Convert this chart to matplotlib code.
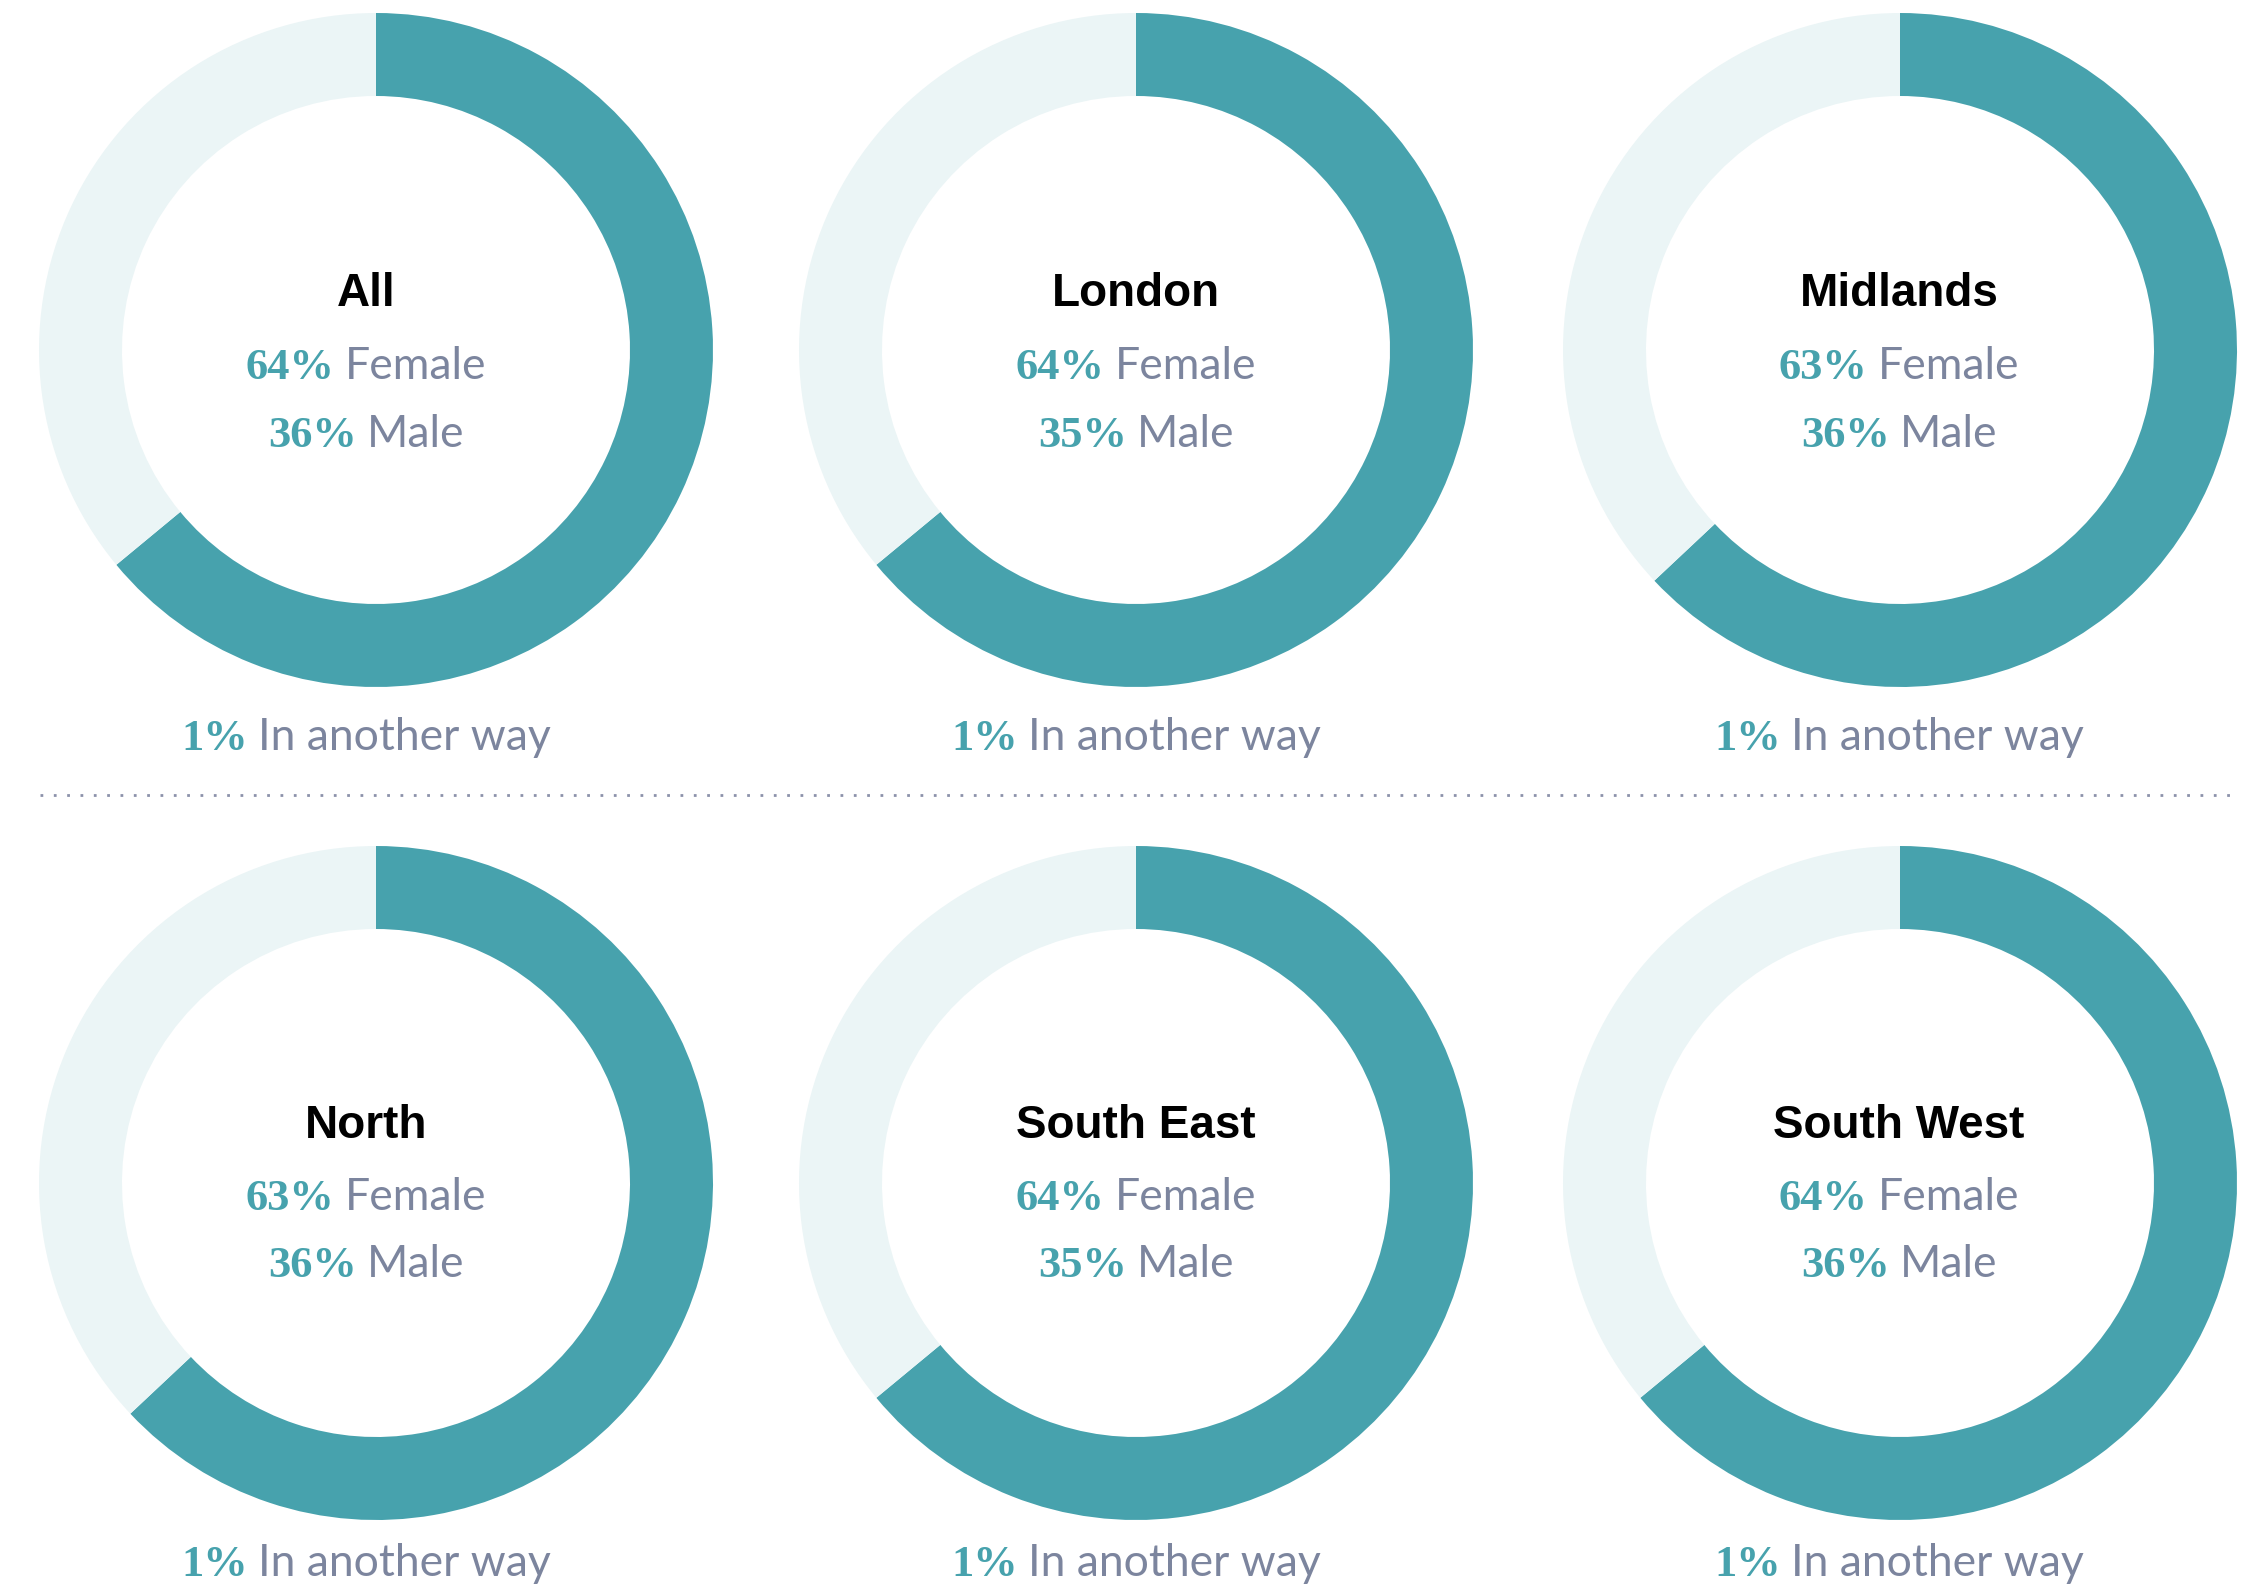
import matplotlib
matplotlib.use("Agg")
import matplotlib.pyplot as plt

# Share of respondents by gender identity, per region
regions = ["All", "London", "Midlands", "North", "South East", "South West"]
female_pct = [64, 64, 63, 63, 64, 64]
male_pct = [36, 35, 36, 36, 35, 36]
other_pct = [1, 1, 1, 1, 1, 1]

TEAL = "#47a2ad"
PALE = "#ebf5f6"
GREY = "#7c859e"
DOT = "#8c92aa"

W, H = 2243, 1590
fig = plt.figure(figsize=(W / 100, H / 100), dpi=100)
ax = fig.add_axes([0, 0, 1, 1])

# layout in pixel units (y measured from the top)
col_x = [376, 1136, 1900]
text_x = [366, 1136, 1899]
row_y = [350, 1183]
radius = 337
ring = 83
title_base = [306, 1138]
female_base = [379, 1210]
male_base = [447, 1277]
other_base = [750, 1576]

def fy(y):
    return H - y

for i, name in enumerate(regions):
    r, c = divmod(i, 3)
    cx, cy = col_x[c], fy(row_y[r])
    ax.pie([female_pct[i], 100 - female_pct[i]], colors=[TEAL, PALE],
           startangle=90, counterclock=False, radius=radius, center=(cx, cy),
           wedgeprops=dict(width=ring, linewidth=0))

ax.set_xlim(0, W)
ax.set_ylim(0, H)
ax.set_aspect("equal")
ax.axis("off")

renderer = fig.canvas.get_renderer()

num_font = dict(family="Liberation Serif", weight="bold", size=32, color=TEAL)
lab_font = dict(family="Lato", weight="normal", size=32, color=GREY)
title_font = dict(family="Liberation Sans", weight="bold", size=33, color="black")


def pair(xc, ybase, num, label):
    t1 = ax.text(0, fy(ybase), num, ha="left", va="baseline", **num_font)
    t2 = ax.text(0, fy(ybase), label, ha="left", va="baseline", **lab_font)
    w1 = t1.get_window_extent(renderer).width
    w2 = t2.get_window_extent(renderer).width
    gap = 10
    x0 = xc - (w1 + gap + w2) / 2
    t1.set_x(x0)
    t2.set_x(x0 + w1 + gap)


for i, name in enumerate(regions):
    r, c = divmod(i, 3)
    xc = text_x[c]
    ax.text(xc, fy(title_base[r]), name, ha="center", va="baseline", **title_font)
    pair(xc, female_base[r], f"{female_pct[i]}%", "Female")
    pair(xc, male_base[r], f"{male_pct[i]}%", "Male")
    pair(xc, other_base[r], f"{other_pct[i]}%", "In another way")

# dotted separator between the two rows
ax.plot([40, 2233], [fy(795), fy(795)], color=DOT, linewidth=2,
        linestyle=(0, (1, 3.8)), dash_capstyle="butt")

fig.savefig("out.png", dpi=100, facecolor="white")
